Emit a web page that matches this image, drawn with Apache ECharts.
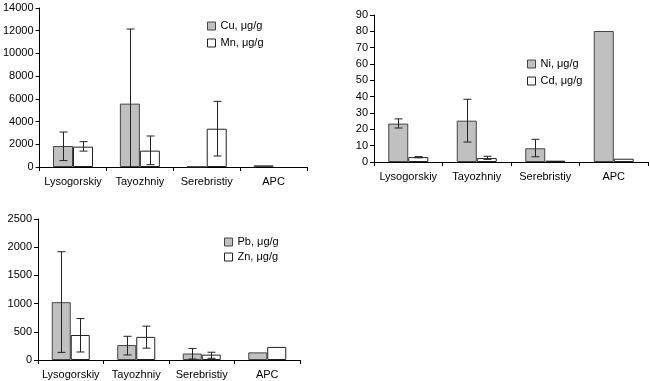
<!DOCTYPE html>
<html>
<head>
<meta charset="utf-8">
<script src="https://cdn.jsdelivr.net/npm/echarts@6/dist/echarts.min.js"></script>
<style>
html,body{margin:0;padding:0;background:#fff;}
#c{width:650px;height:381px;}
</style>
</head>
<body>
<div id="c"></div>
<script>
const categories = ['Lysogorskiy', 'Tayozhniy', 'Serebristiy', 'APC'];

// Chart 1
const cuName = 'Cu, μg/g';
const cu = [1850, 5580, 50, 150];
const cuHi = [3080, 12150, null, null];
const cuLo = [560, -900, null, null];
const mnName = 'Mn, μg/g';
const mn = [1790, 1440, 3370, null];
const mnHi = [2230, 2730, 5780, null];
const mnLo = [1400, 205, 970, null];
const yTicks1 = [0, 14000, 2000];

// Chart 2
const niName = 'Ni, μg/g';
const ni = [23.5, 25.3, 8.4, 80.2];
const niHi = [26.4, 38.4, 13.9, null];
const niLo = [20.8, 12.2, 3.2, null];
const cdName = 'Cd, μg/g';
const cd = [3.0, 2.4, 0.8, 2.0];
const cdHi = [3.3, 3.5, null, null];
const cdLo = [2.6, 1.6, null, null];
const yTicks2 = [0, 90, 10];

// Chart 3
const pbName = 'Pb, μg/g';
const pb = [1025, 265, 115, 135];
const pbHi = [1920, 420, 205, null];
const pbLo = [135, 90, 18, null];
const znName = 'Zn, μg/g';
const zn = [443, 410, 95, 232];
const znHi = [735, 600, 138, null];
const znLo = [142, 210, 30, null];
const yTicks3 = [0, 2500, 500];

const GRAY = '#c0c0c0';
const FONT = 'Liberation Sans, Arial, sans-serif';

function errData(hi, lo, side) {
  const out = [];
  for (let i = 0; i < hi.length; i++) {
    if (hi[i] != null) out.push([i, hi[i], lo[i], side]);
  }
  return out;
}
function errRender(bw) {
  return function (params, api) {
    const cat = api.value(0), hi = api.value(1), lo = api.value(2), side = api.value(3);
    const top = api.coord([cat, hi]);
    const base = api.coord([cat, Math.max(lo, 0)]);
    const x = Math.round(top[0] + side * bw / 2) + 0.5;
    const cw = 4;
    const st = { stroke: '#222', lineWidth: 1 };
    const ch = [
      { type: 'line', shape: { x1: x, y1: top[1], x2: x, y2: base[1] }, style: st },
      { type: 'line', shape: { x1: x - cw, y1: top[1], x2: x + cw, y2: top[1] }, style: st }
    ];
    if (lo >= 0) ch.push({ type: 'line', shape: { x1: x - cw, y1: base[1], x2: x + cw, y2: base[1] }, style: st });
    return { type: 'group', children: ch };
  };
}

const grids = [
  { left: 36, top: 8, width: 271, height: 159 },
  { left: 374, top: 15, width: 274, height: 147 },
  { left: 38, top: 219, width: 262, height: 141 }
];
const yt = [yTicks1, yTicks2, yTicks3];
const bws = [20, 20, 19];

const xAxes = grids.map((g, i) => ({
  type: 'category', gridIndex: i, data: categories, boundaryGap: true,
  axisLine: { lineStyle: { color: '#000', width: 1 } },
  axisTick: { show: true, length: 4, lineStyle: { color: '#000' } },
  axisLabel: { color: '#000', fontSize: 11, fontFamily: FONT, margin: 9, interval: 0 },
  splitLine: { show: false }
}));
const yAxes = grids.map((g, i) => ({
  type: 'value', gridIndex: i, min: yt[i][0], max: yt[i][1], interval: yt[i][2],
  axisLine: { show: true, lineStyle: { color: '#000', width: 1 } },
  axisTick: { show: true, length: 4, lineStyle: { color: '#000' } },
  axisLabel: { color: '#000', fontSize: 11, fontFamily: FONT, margin: 6, formatter: v => String(v) },
  splitLine: { show: false }
}));

function barSeries(name, data, idx, fill, border) {
  return {
    type: 'bar', name: name, data: data, xAxisIndex: idx, yAxisIndex: idx,
    barWidth: bws[idx], barGap: '0%',
    itemStyle: { color: fill, borderColor: border, borderWidth: 1 },
    emphasis: { disabled: true }, animation: false, z: 2
  };
}
function errSeries(data, idx) {
  return {
    type: 'custom', xAxisIndex: idx, yAxisIndex: idx, data: data,
    renderItem: errRender(bws[idx]), encode: { x: 0, y: [1, 2] },
    animation: false, z: 5, silent: true
  };
}

const sets = [
  [cuName, cu, cuHi, cuLo, mnName, mn, mnHi, mnLo],
  [niName, ni, niHi, niLo, cdName, cd, cdHi, cdLo],
  [pbName, pb, pbHi, pbLo, znName, zn, znHi, znLo]
];
const series = [];
sets.forEach((s, i) => {
  series.push(barSeries(s[0], s[1], i, GRAY, '#444'));
  series.push(barSeries(s[4], s[5], i, '#ffffff', '#222'));
  series.push(errSeries(errData(s[2], s[3], -1).concat(errData(s[6], s[7], 1)), i));
});

const legendPos = [
  { left: 207, top: 20, gap: 5 },
  { left: 527, top: 58, gap: 5 },
  { left: 224, top: 236, gap: 3 }
];
const legends = sets.map((s, i) => ({
  data: [s[0], s[4]], orient: 'vertical', left: legendPos[i].left, top: legendPos[i].top,
  itemWidth: 8, itemHeight: 8, itemGap: legendPos[i].gap, itemTextGap: 3,
  icon: 'rect', selectedMode: false, padding: 0,
  itemStyle: { borderWidth: 1 },
  textStyle: { color: '#000', fontSize: 11, fontFamily: FONT, lineHeight: 12 }
}));

const chart = echarts.init(document.getElementById('c'), null, { renderer: 'canvas' });
chart.setOption({
  animation: false,
  backgroundColor: '#fff',
  grid: grids,
  xAxis: xAxes,
  yAxis: yAxes,
  legend: legends,
  series: series
});
</script>
</body>
</html>
